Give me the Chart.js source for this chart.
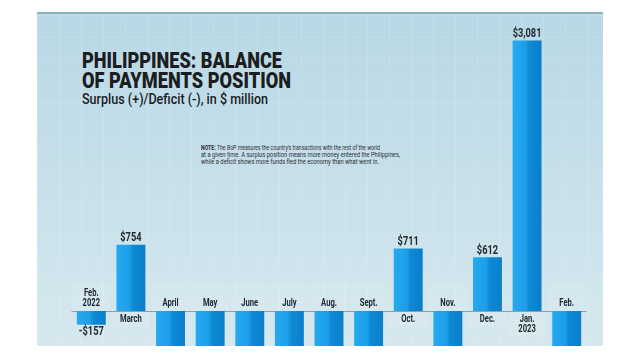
<!DOCTYPE html>
<html>
<head>
<meta charset="utf-8">
<script src="https://cdn.jsdelivr.net/npm/chart.js@4.4.1/dist/chart.umd.min.js"></script>
<style>
  html, body { margin:0; padding:0; background:#fff; }
  #wrap { position:relative; width:640px; height:360px; overflow:hidden; }
  #panel {
    position:absolute; left:37px; top:12px; width:566px; height:334px;
    border-top:2px solid #8fb3b7; box-sizing:border-box;
    background:
      repeating-linear-gradient(90deg, rgba(255,255,255,0.13) 0 1px, transparent 1px 22px),
      repeating-linear-gradient(0deg, rgba(255,255,255,0.10) 0 1px, transparent 1px 22px),
      linear-gradient(180deg, #b8d8e5 0%, #c7e0ea 50%, #d6e8ee 100%);
  }
  .txt { position:absolute; white-space:nowrap; transform-origin:0 0; color:#1b1d1f; }
  .ttl { font-family:Roboto, "Liberation Sans", sans-serif; font-weight:900; font-size:21.5px; line-height:21px; }
  .sub { font-family:Roboto, "Liberation Sans", sans-serif; font-weight:500; font-size:14.5px; line-height:14px; }
  .note { font-family:Roboto, "Liberation Sans", sans-serif; font-size:6.5px; line-height:7px; color:#2a2d30; }
  canvas { position:absolute; left:0; top:0; }
</style>
</head>
<body>
<div id="wrap">
  <div id="panel"></div>
  <div class="txt ttl" data-w="200" style="left:82px;top:50px;">PHILIPPINES: BALANCE</div>
  <div class="txt ttl" data-w="209" style="left:82px;top:70px;">OF PAYMENTS POSITION</div>
  <div class="txt sub" data-w="186" style="left:82px;top:93px;">Surplus (+)/Deficit (-), in $ million</div>
  <div class="txt note" data-w="179" style="left:201px;top:145px;"><b>NOTE:</b> The BoP measures the country's transactions with the rest of the world</div>
  <div class="txt note" data-w="199" style="left:201px;top:152px;">at a given time. A surplus position means more money entered the Philippines,</div>
  <div class="txt note" data-w="178" style="left:201px;top:159px;">while a deficit shows more funds fled the economy than what went in.</div>
  <canvas id="c" width="640" height="360"></canvas>
</div>
<script>
// months (label lines) and BoP values in $ million
var MONTHS = [["Feb.","2022"],["March"],["April"],["May"],["June"],["July"],["Aug."],["Sept."],["Oct."],["Nov."],["Dec."],["Jan.","2023"],["Feb."]];
var VALUES = [-157, 754, -1580, -1440, -980, -1770, -1100, -2440, 711, -1110, 612, 3081, -1080];
var VALUE_TEXT = ["-$157","$754","","","","","","","$711","","$612","$3,081",""];
var Y_MIN = -400, Y_MAX = 3200;

// squeeze html texts to the widths seen in the picture
document.querySelectorAll(".txt").forEach(function(el){
  var w = el.getBoundingClientRect().width;
  var target = Number(el.getAttribute("data-w"));
  el.style.transform = "scaleX(" + (target / w) + ")";
});

function narrowText(ctx, text, x, y, font, sx){
  ctx.save();
  ctx.font = font;
  ctx.translate(x, y);
  ctx.scale(sx, 1);
  ctx.textAlign = "center";
  ctx.textBaseline = "middle";
  ctx.fillText(text, 0, 0);
  ctx.restore();
}

var labelPlugin = {
  id: "labelPlugin",
  beforeDatasetsDraw: function(chart){
    var ctx = chart.ctx, a = chart.chartArea;
    var x = chart.scales.x, y = chart.scales.y;
    var y0 = y.getPixelForValue(0);
    var cw = x.width / VALUES.length;
    ctx.save();
    // light label cells
    ctx.fillStyle = "rgba(255,255,255,0.10)";
    for (var i=0;i<VALUES.length;i++){
      var cx = x.getPixelForValue(i);
      if (VALUES[i] < 0) ctx.fillRect(cx - cw/2 + 1, y0 - 28, cw - 2, 28);
      else ctx.fillRect(cx - cw/2 + 1, y0, cw - 2, MONTHS[i].length > 1 ? 26 : 16);
    }
    // zero line
    ctx.strokeStyle = "#8ba2ac";
    ctx.lineWidth = 1;
    ctx.beginPath();
    ctx.moveTo(a.left, Math.round(y0) + 0.5);
    ctx.lineTo(a.right, Math.round(y0) + 0.5);
    ctx.stroke();
    ctx.restore();
  },
  afterDatasetsDraw: function(chart){
    var ctx = chart.ctx;
    var x = chart.scales.x, y = chart.scales.y;
    var y0 = y.getPixelForValue(0);
    ctx.save();
    ctx.fillStyle = "#23292e";
    for (var i=0;i<VALUES.length;i++){
      var cx = x.getPixelForValue(i);
      var lines = MONTHS[i];
      for (var k=0;k<lines.length;k++){
        var ly;
        if (VALUES[i] < 0) ly = y0 - 7 - (lines.length - 1 - k) * 10.5;
        else ly = y0 + 8.5 + k * 10.5;
        narrowText(ctx, lines[k], cx, ly, "bold 10px Roboto", 0.76);
      }
      if (VALUE_TEXT[i]){
        var vy = y.getPixelForValue(VALUES[i]);
        var ty = VALUES[i] < 0 ? vy + 7 : vy - 6.5;
        narrowText(ctx, VALUE_TEXT[i], cx, ty, "bold 12.5px Roboto", 0.74);
      }
    }
    ctx.restore();
  }
};

function barFill(context){
  var chart = context.chart;
  if (!chart.chartArea) return "#1597e0";
  var xs = chart.scales.x;
  var cx = xs.getPixelForValue(context.dataIndex);
  var w = xs.width / VALUES.length * 0.73;
  var g = chart.ctx.createLinearGradient(cx - w/2, 0, cx + w/2, 0);
  g.addColorStop(0, "#27a9ef");
  g.addColorStop(0.45, "#1b9fe9");
  g.addColorStop(0.58, "#0d89d4");
  g.addColorStop(1, "#0a7fcb");
  return g;
}

new Chart(document.getElementById("c").getContext("2d"), {
  type: "bar",
  data: {
    labels: MONTHS.map(function(m){ return m.join(" "); }),
    datasets: [{
      data: VALUES,
      backgroundColor: barFill,
      borderWidth: 0,
      categoryPercentage: 1,
      barPercentage: 0.73
    }]
  },
  options: {
    responsive: false,
    animation: false,
    layout: { padding: { left: 71.5, right: 53.5, top: 30, bottom: 14 } },
    plugins: { legend: { display: false }, tooltip: { enabled: false } },
    scales: {
      x: { display: false },
      y: { display: false, min: Y_MIN, max: Y_MAX }
    }
  },
  plugins: [labelPlugin]
});
</script>
</body>
</html>
